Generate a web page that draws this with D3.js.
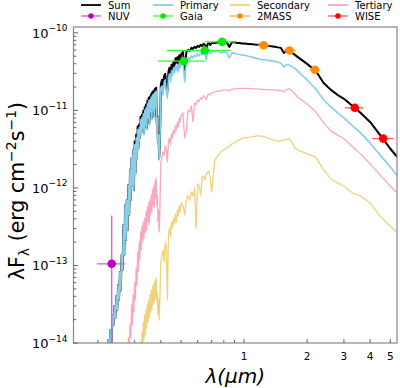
<!DOCTYPE html>
<html lang="en">
<head>
<meta charset="UTF-8">
<title>SED fit</title>
<script src="https://cdn.jsdelivr.net/npm/d3@7"></script>
<style>
  body { margin: 0; background: #fff; }
  svg text { font-family: "DejaVu Sans", sans-serif; fill: #000; }
</style>
</head>
<body>
<svg id="chart" width="400" height="388"></svg>
<script>
// wavelength grid of the model spectra (micron)
var wavelengths = [
  0.2000,0.2025,0.2050,0.2075,0.2100,0.2125,0.2150,0.2175,0.2200,0.2225,
  0.2250,0.2275,0.2300,0.2325,0.2350,0.2375,0.2400,0.2425,0.2450,0.2475,
  0.2500,0.2525,0.2550,0.2575,0.2600,0.2625,0.2650,0.2675,0.2700,0.2725,
  0.2750,0.2775,0.2800,0.2825,0.2850,0.2875,0.2900,0.2925,0.2950,0.2975,
  0.3000,0.3025,0.3050,0.3075,0.3100,0.3125,0.3150,0.3175,0.3200,0.3225,
  0.3250,0.3275,0.3300,0.3325,0.3350,0.3375,0.3400,0.3425,0.3450,0.3475,
  0.3500,0.3525,0.3550,0.3575,0.3600,0.3625,0.3650,0.3675,0.3700,0.3725,
  0.3750,0.3775,0.3800,0.3825,0.3850,0.3875,0.3900,0.3925,0.3950,0.3975,
  0.4000,
  0.405,0.410,0.415,0.420,0.425,0.430,0.435,0.440,0.445,0.450,
  0.455,0.460,0.465,0.470,0.475,0.480,0.485,0.490,0.495,0.500,
  0.51,0.52,0.53,0.54,0.55,0.56,0.57,0.58,0.59,0.60,
  0.61,0.62,0.63,0.64,0.65,0.66,0.67,0.68,0.69,0.70,
  0.725,0.75,0.775,0.80,0.825,0.85,0.875,0.90,0.925,0.95,0.975,1.0,
  1.05,1.1,1.15,1.2,1.25,1.3,1.35,1.4,1.45,1.5,1.55,1.6,1.65,1.7,1.75,1.8,
  2.0,2.2,2.4,2.6,2.8,3.0,3.3,3.6,4.0,4.5,5.0,5.4];

// lambda F_lambda (erg cm-2 s-1)
var sumFlux = [
  1.0e-15,1.37e-15,1.84e-15,2.33e-15,2.96e-15,4.2e-15,5.05e-15,6.8e-15,8.1e-15,7.6e-15,
  1.09e-14,9.4e-15,1.47e-14,1.03e-14,2.3e-14,1.71e-14,3.0e-14,2.1e-14,4.05e-14,2.67e-14,
  5.6e-14,3.6e-14,8.25e-14,4.8e-14,1.37e-13,8.8e-14,3.33e-13,1.37e-13,6.0e-13,2.13e-13,
  7.0e-13,2.87e-13,1.09e-12,4.5e-13,1.71e-12,7.0e-13,2.44e-12,1.09e-12,3.1e-12,9.4e-13,
  4.0e-12,1.55e-12,4.9e-12,2.4e-12,6.2e-12,3.25e-12,6.6e-12,4.4e-12,8.3e-12,5.1e-12,
  8.8e-12,6.2e-12,9.9e-12,5.1e-12,1.1e-11,6.8e-12,1.19e-11,5.9e-12,1.33e-11,8.4e-12,
  1.46e-11,6.8e-12,1.51e-11,1.0e-11,1.64e-11,7.9e-12,1.74e-11,1.05e-11,1.79e-11,8.4e-12,
  1.9e-11,1.13e-11,1.96e-11,6.8e-12,8.4e-12,3.8e-12,5.1e-12,2.4e-12,3.25e-12,6.8e-12,
  2.15e-11,
  2.48e-11,1.9e-11,2.8e-11,2.96e-11,2.08e-11,1.74e-11,3.16e-11,3.55e-11,2.8e-11,3.88e-11,
  3.35e-11,4.25e-11,3.66e-11,4.7e-11,4.15e-11,4.85e-11,3.9e-11,5.15e-11,4.4e-11,5.3e-11,
  5.7e-11,3.33e-11,5.7e-11,6.05e-11,5.85e-11,6.4e-11,6.2e-11,6.6e-11,6.4e-11,6.8e-11,
  6.6e-11,7.0e-11,6.8e-11,7.2e-11,7.0e-11,6.05e-11,7.2e-11,7.4e-11,7.0e-11,7.4e-11,
  7.4e-11,7.56e-11,7.3e-11,7.66e-11,7.56e-11,6.6e-11,7.56e-11,7.56e-11,7.4e-11,7.4e-11,7.3e-11,7.3e-11,
  7.2e-11,7.12e-11,7.0e-11,7.0e-11,6.91e-11,6.8e-11,6.71e-11,6.6e-11,6.5e-11,6.4e-11,5.5e-11,6.1e-11,5.85e-11,5.5e-11,5.2e-11,4.9e-11,
  3.98e-11,3.23e-11,2.26e-11,1.84e-11,1.58e-11,1.41e-11,1.14e-11,9.3e-12,7.1e-12,4.7e-12,3.2e-12,2.5e-12];

var primaryFlux = [
  1.0e-15,1.37e-15,1.84e-15,2.33e-15,2.96e-15,4.2e-15,5.05e-15,6.8e-15,8.1e-15,7.6e-15,
  1.09e-14,9.4e-15,1.47e-14,1.03e-14,2.3e-14,1.71e-14,3.0e-14,2.1e-14,4.05e-14,2.67e-14,
  5.6e-14,3.6e-14,8.25e-14,4.8e-14,1.37e-13,8.8e-14,3.33e-13,1.37e-13,6.0e-13,2.13e-13,
  7.0e-13,2.87e-13,1.09e-12,4.5e-13,1.71e-12,7.0e-13,2.44e-12,1.09e-12,3.1e-12,9.4e-13,
  3.6e-12,1.47e-12,4.42e-12,2.3e-12,5.6e-12,3.1e-12,5.95e-12,4.17e-12,7.56e-12,4.83e-12,
  8.0e-12,5.95e-12,9.0e-12,4.83e-12,1.0e-11,6.5e-12,1.08e-11,5.6e-12,1.21e-11,8.0e-12,
  1.33e-11,6.5e-12,1.37e-11,9.6e-12,1.49e-11,7.56e-12,1.58e-11,1.0e-11,1.63e-11,8.0e-12,
  1.73e-11,1.08e-11,1.78e-11,6.5e-12,8.0e-12,3.6e-12,4.83e-12,2.3e-12,3.1e-12,6.5e-12,
  1.95e-11,
  2.07e-11,1.58e-11,2.33e-11,2.47e-11,1.73e-11,1.45e-11,2.63e-11,2.96e-11,2.33e-11,3.23e-11,
  2.79e-11,3.54e-11,3.05e-11,3.75e-11,3.33e-11,3.86e-11,3.14e-11,4.1e-11,3.54e-11,4.2e-11,
  4.5e-11,2.33e-11,4.2e-11,4.75e-11,4.5e-11,5.05e-11,4.75e-11,5.2e-11,4.9e-11,5.35e-11,
  5.05e-11,5.5e-11,5.2e-11,5.7e-11,5.5e-11,4.5e-11,5.7e-11,5.7e-11,5.35e-11,5.7e-11,
  5.7e-11,5.8e-11,5.5e-11,5.7e-11,5.6e-11,4.75e-11,5.5e-11,5.45e-11,5.35e-11,5.25e-11,5.2e-11,5.13e-11,
  4.98e-11,4.83e-11,4.69e-11,4.55e-11,4.5e-11,4.42e-11,4.35e-11,4.29e-11,4.17e-11,4.05e-11,3.64e-11,3.92e-11,3.81e-11,3.64e-11,3.48e-11,3.23e-11,
  2.47e-11,1.89e-11,1.37e-11,1.11e-11,9.3e-12,8.0e-12,6.3e-12,5.13e-12,3.81e-12,2.59e-12,1.87e-12,1.43e-12];

var secondaryFlux = [
  null,null,null,null,null,null,null,null,null,null,
  null,null,null,null,null,null,null,null,null,null,
  null,null,null,null,null,null,null,null,null,null,
  null,null,null,null,null,null,null,null,null,null,
  null,null,null,null,5.7e-15,3.87e-15,7.6e-15,5.2e-15,1.03e-14,7.0e-15,
  1.39e-14,8.6e-15,1.87e-14,1.09e-14,2.3e-14,1.27e-14,2.67e-14,1.56e-14,3.19e-14,1.87e-14,
  3.6e-14,2.1e-14,4.17e-14,2.51e-14,4.8e-14,2.67e-14,5.28e-14,3.1e-14,5.78e-14,3.38e-14,
  6.32e-14,3.81e-14,6.91e-14,3.6e-14,4.55e-14,2.3e-14,3.6e-14,1.98e-14,3.1e-14,5.6e-14,
  1.11e-13,
  1.33e-13,1.58e-13,1.11e-13,2.01e-13,1.68e-13,3.6e-14,2.47e-13,3.05e-13,2.4e-13,3.64e-13,
  3.05e-13,4.1e-13,3.43e-13,4.6e-13,3.64e-13,5.2e-13,4.35e-13,5.85e-13,4.9e-13,6.4e-13,
  6.0e-13,4.5e-13,7.0e-13,7.9e-13,7.0e-13,8.9e-13,7.9e-13,1.0e-12,3.05e-13,1.13e-12,
  1.06e-12,8.1e-13,1.35e-12,1.43e-12,1.27e-12,1.52e-12,1.61e-12,1.66e-12,1.27e-12,8.9e-13,
  2.3e-12,2.59e-12,2.91e-12,3.1e-12,3.28e-12,3.38e-12,3.7e-12,3.81e-12,4.05e-12,4.17e-12,4.3e-12,4.42e-12,
  4.5e-12,4.6e-12,4.69e-12,4.69e-12,4.55e-12,4.42e-12,4.23e-12,4.1e-12,3.98e-12,4.05e-12,4.17e-12,4.23e-12,4.3e-12,3.81e-12,3.28e-12,3.1e-12,
  2.75e-12,2.5e-12,1.71e-12,1.31e-12,1.16e-12,1.05e-12,8.6e-13,7.9e-13,6.4e-13,4.2e-13,3.23e-13,2.63e-13];

var tertiaryFlux = [
  null,null,null,null,null,null,null,null,null,null,
  null,null,null,null,null,null,null,null,null,null,
  null,null,null,null,null,null,null,null,5.2e-15,3.87e-15,
  8.1e-15,6.4e-15,1.16e-14,8.6e-15,1.71e-14,1.16e-14,3.1e-14,1.71e-14,4.17e-14,2.51e-14,
  6.1e-14,3.6e-14,9.3e-14,5.6e-14,1.49e-13,8.25e-14,2.01e-13,1.18e-13,2.7e-13,1.58e-13,
  3.23e-13,2.01e-13,3.64e-13,2.26e-13,4.1e-13,2.7e-13,4.9e-13,2.87e-13,5.7e-13,3.64e-13,
  6.4e-13,3.33e-13,7.0e-13,4.5e-13,8.1e-13,4.9e-13,9.4e-13,6.0e-13,1.06e-12,5.5e-13,
  1.23e-12,7.4e-13,1.35e-12,6.0e-13,8.1e-13,3.64e-13,5.2e-13,2.7e-13,3.87e-13,9.4e-13,
  2.1e-12,
  2.44e-12,2.91e-12,2.66e-12,3.48e-12,3.1e-12,2.17e-12,3.92e-12,4.42e-12,3.6e-12,4.98e-12,
  4.42e-12,5.6e-12,4.98e-12,6.32e-12,5.6e-12,7.12e-12,6.1e-12,8.0e-12,7.12e-12,8.51e-12,
  9.3e-12,4.42e-12,5.28e-12,1.01e-11,9.6e-12,1.14e-11,7.12e-12,1.25e-11,1.18e-11,1.37e-11,
  1.29e-11,1.45e-11,1.41e-11,1.54e-11,1.49e-11,1.37e-11,1.58e-11,1.63e-11,1.58e-11,1.68e-11,
  1.73e-11,1.78e-11,1.78e-11,1.84e-11,1.84e-11,1.78e-11,1.87e-11,1.89e-11,1.89e-11,1.92e-11,1.92e-11,1.92e-11,
  1.92e-11,1.89e-11,1.89e-11,1.87e-11,1.87e-11,1.84e-11,1.84e-11,1.84e-11,1.81e-11,1.81e-11,1.73e-11,1.87e-11,1.89e-11,1.78e-11,1.63e-11,1.49e-11,
  1.21e-11,9.6e-12,6.9e-12,5.45e-12,4.8e-12,4.3e-12,3.4e-12,2.75e-12,2.04e-12,1.43e-12,1.06e-12,8.6e-13];

// photometry: wavelength, flux, band edges, flux error
var nuvWave = [0.233], nuvFlux = [1.05e-13], nuvLo = [0.198], nuvHi = [0.27], nuvErr = [3.35e-13];
var gaiaWave = [0.516, 0.649, 0.785], gaiaFlux = [4.32e-11, 5.92e-11, 7.66e-11];
var gaiaLo = [0.388, 0.428, 0.649], gaiaHi = [0.649, 0.861, 0.92];
var tmassWave = [1.24, 1.65, 2.18], tmassFlux = [6.93e-11, 5.92e-11, 3.34e-11];
var tmassLo = [1.16, 1.55, 2.05], tmassHi = [1.32, 1.77, 2.32];
var wiseWave = [3.38, 4.62], wiseFlux = [1.08e-11, 4.33e-12];
var wiseLo = [3.03, 4.1], wiseHi = [3.73, 5.17];

var xTicksMajor = [1, 2, 3, 4, 5];
var xTicksMinor = [0.2, 0.3, 0.4, 0.5, 0.6, 0.7, 0.8, 0.9];
var yDecades = [-14, -13, -12, -11, -10];

var margin = {top: 27, right: 3, bottom: 45, left: 73.5},
    W = 400, H = 388;

var svg = d3.select("#chart");

var x = d3.scaleLog().domain([0.153, 5.38]).range([margin.left, W - margin.right]);
var y = d3.scaleLog().domain([1e-14, 1.19e-10]).range([H - margin.bottom, margin.top]);

svg.append("defs").append("clipPath").attr("id", "clip")
  .append("rect")
    .attr("x", margin.left).attr("y", margin.top)
    .attr("width", x.range()[1] - margin.left)
    .attr("height", y.range()[0] - margin.top);

var plot = svg.append("g").attr("clip-path", "url(#clip)");

function series(vals) {
  return wavelengths.map(function(w, i) { return [w, vals[i]]; });
}

var line = d3.line()
  .defined(function(d) { return d[1] != null; })
  .x(function(d) { return x(d[0]); })
  .y(function(d) { return y(d[1]); });

var spectra = [
  {vals: sumFlux, color: "#000000", width: 2.0},
  {vals: primaryFlux, color: "#87ceeb", width: 1.6},
  {vals: secondaryFlux, color: "#f0d27a", width: 1.3},
  {vals: tertiaryFlux, color: "#f7aabd", width: 1.3}
];

spectra.forEach(function(s) {
  plot.append("path")
    .datum(series(s.vals))
    .attr("fill", "none")
    .attr("stroke", s.color)
    .attr("stroke-width", s.width)
    .attr("stroke-linejoin", "round")
    .attr("d", line);
});

// photometry with error bars
function photometry(waves, fluxes, lo, hi, err, color, barColor) {
  var g = plot.append("g");
  waves.forEach(function(w, i) {
    var f = fluxes[i];
    g.append("line")
      .attr("x1", x(lo[i])).attr("x2", x(hi[i]))
      .attr("y1", y(f)).attr("y2", y(f))
      .attr("stroke", barColor).attr("stroke-width", 1.3);
    if (err) {
      var low = f - err[i];
      g.append("line")
        .attr("x1", x(w)).attr("x2", x(w))
        .attr("y1", low > 0 ? y(low) : y.range()[0] + 10)
        .attr("y2", y(f + err[i]))
        .attr("stroke", barColor).attr("stroke-width", 1.3);
    }
    g.append("circle")
      .attr("cx", x(w)).attr("cy", y(f)).attr("r", 4.3)
      .attr("fill", color);
  });
}

photometry(nuvWave, nuvFlux, nuvLo, nuvHi, nuvErr, "#bf00bf", "#d65ad6");
photometry(gaiaWave, gaiaFlux, gaiaLo, gaiaHi, null, "#00ee00", "#33ff33");
photometry(tmassWave, tmassFlux, tmassLo, tmassHi, null, "#ff8c00", "#ffa640");
photometry(wiseWave, wiseFlux, wiseLo, wiseHi, null, "#ff0000", "#ff5555");

// frame
var x0 = x.range()[0], x1 = x.range()[1], y0 = y.range()[0], y1 = y.range()[1];
svg.append("rect")
  .attr("x", x0).attr("y", y1)
  .attr("width", x1 - x0).attr("height", y0 - y1)
  .attr("fill", "none").attr("stroke", "#888").attr("stroke-width", 1.2);

// x ticks (inward)
var axes = svg.append("g").attr("stroke", "#555").attr("stroke-width", 0.9);
xTicksMajor.forEach(function(t) {
  axes.append("line").attr("x1", x(t)).attr("x2", x(t)).attr("y1", y0).attr("y2", y0 - 4);
});
xTicksMinor.forEach(function(t) {
  axes.append("line").attr("x1", x(t)).attr("x2", x(t)).attr("y1", y0).attr("y2", y0 - 3);
});
svg.selectAll(".xlab").data(xTicksMajor).enter().append("text")
  .attr("class", "xlab")
  .attr("x", function(d) { return x(d); })
  .attr("y", y0 + 17)
  .attr("text-anchor", "middle")
  .attr("font-size", 10.5)
  .text(function(d) { return d; });

// y ticks (inward)
yDecades.forEach(function(e) {
  var base = Math.pow(10, e);
  axes.append("line").attr("x1", x0).attr("x2", x0 + 4.5).attr("y1", y(base)).attr("y2", y(base));
  d3.range(2, 10).forEach(function(m) {
    var v = m * base;
    if (v <= y.domain()[1]) {
      axes.append("line").attr("x1", x0).attr("x2", x0 + 2.8).attr("y1", y(v)).attr("y2", y(v));
    }
  });
  var lab = svg.append("text")
    .attr("x", x0 - 6)
    .attr("y", y(base) + 5)
    .attr("text-anchor", "end")
    .attr("font-size", 13);
  lab.append("tspan").text("10");
  lab.append("tspan").attr("dy", -6.5).attr("font-size", 9).text("\u2212" + (-e));
});

// axis titles
svg.append("text")
  .attr("x", (x0 + x1) / 2)
  .attr("y", 383)
  .attr("text-anchor", "middle")
  .attr("font-size", 20)
  .attr("font-style", "italic")
  .text("\u03bb(\u03bcm)");

var yl = svg.append("text")
  .attr("transform", "translate(24,191) rotate(-90)")
  .attr("text-anchor", "middle")
  .attr("font-size", 20.5);
yl.append("tspan").text("\u03bbF");
yl.append("tspan").attr("dy", 5).attr("font-size", 14).text("\u03bb");
yl.append("tspan").attr("dy", -5).text(" (erg cm");
yl.append("tspan").attr("dy", -8).attr("font-size", 14).text("\u22122");
yl.append("tspan").attr("dy", 8).text("s");
yl.append("tspan").attr("dy", -8).attr("font-size", 14).text("\u22121");
yl.append("tspan").attr("dy", 8).text(")");

// legend
var legendItems = [
  {name: "Sum", color: "#000000", marker: false, col: 0, row: 0},
  {name: "Primary", color: "#87ceeb", marker: false, col: 1, row: 0},
  {name: "Secondary", color: "#f0d27a", marker: false, col: 2, row: 0},
  {name: "Tertiary", color: "#f7aabd", marker: false, col: 3, row: 0},
  {name: "NUV", color: "#bf00bf", bar: "#d65ad6", marker: true, col: 0, row: 1},
  {name: "Gaia", color: "#00ee00", bar: "#33ff33", marker: true, col: 1, row: 1},
  {name: "2MASS", color: "#ff8c00", bar: "#ffa640", marker: true, col: 2, row: 1},
  {name: "WISE", color: "#ff0000", bar: "#ff5555", marker: true, col: 3, row: 1}
];
var colX = [81, 153, 230, 328], rowY = [5, 16];
legendItems.forEach(function(d) {
  var lx = colX[d.col], ly = rowY[d.row];
  svg.append("line")
    .attr("x1", lx).attr("x2", lx + 20).attr("y1", ly).attr("y2", ly)
    .attr("stroke", d.marker ? d.bar : d.color)
    .attr("stroke-width", d.marker ? 1.3 : 1.8);
  if (d.marker) {
    svg.append("circle").attr("cx", lx + 10).attr("cy", ly).attr("r", 2.8).attr("fill", d.color);
  }
  svg.append("text")
    .attr("x", lx + 27).attr("y", ly + 3.6)
    .attr("font-size", 10)
    .text(d.name);
});
</script>
</body>
</html>
